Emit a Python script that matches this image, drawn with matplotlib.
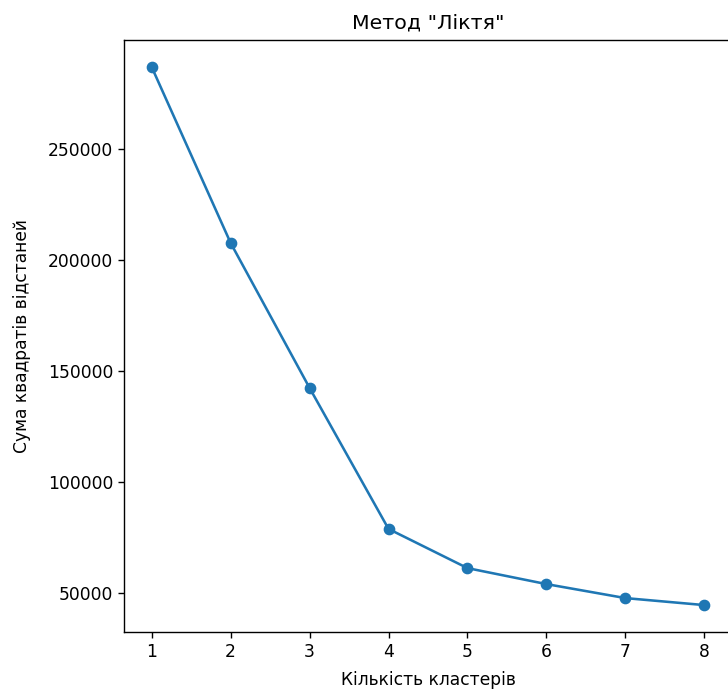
import numpy as np
import matplotlib.pyplot as plt

# кількість кластерів і сума квадратів відстаней
clusters = [1, 2, 3, 4, 5, 6, 7, 8]
inertia = [286850, 207640, 142360, 78880, 61240, 54050, 47750, 44600]

plt.rcParams['font.size'] = 12.3

fig = plt.figure(figsize=(7.28, 6.91), dpi=100)
ax = fig.add_axes([124 / 728, 59 / 691, 608 / 728, 592 / 691])
ax.plot(clusters, inertia, marker='o', linewidth=1.85, markersize=7.4)
for s in ax.spines.values():
    s.set_linewidth(1.0)
ax.tick_params(width=1.0, length=4.3)
ax.set_title('Метод "Ліктя"', pad=8)
ax.set_xlabel('Кількість кластерів', labelpad=7)
ax.set_ylabel('Сума квадратів відстаней', labelpad=12)

fig.savefig('out.png', dpi=100)
